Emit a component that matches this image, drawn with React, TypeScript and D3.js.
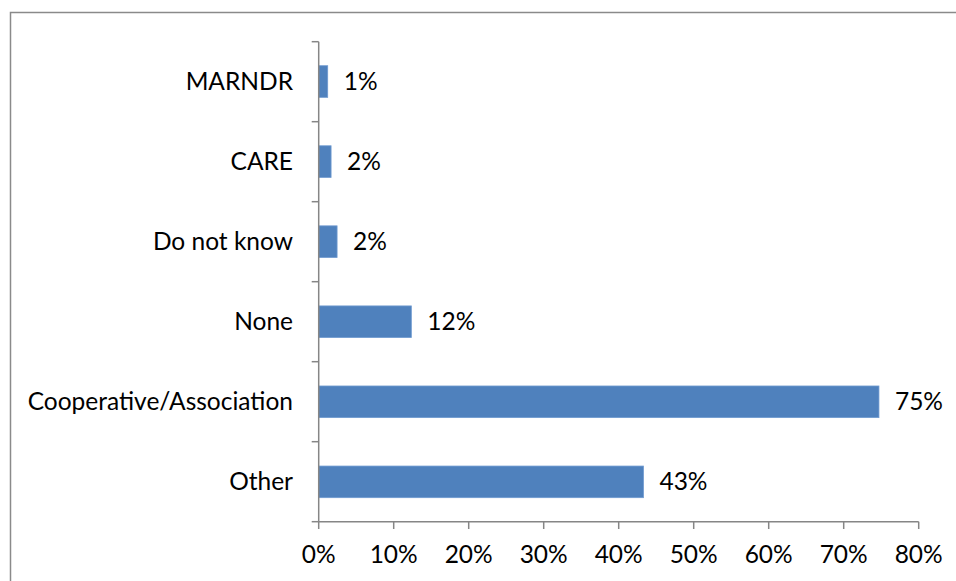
import React from "react";
import * as d3 from "d3";

const categories = ["MARNDR", "CARE", "Do not know", "None", "Cooperative/Association", "Other"];
const values = [1.2, 1.65, 2.45, 12.35, 74.7, 43.3];
const valueLabels = ["1%", "2%", "2%", "12%", "75%", "43%"];
const ticks = [0, 10, 20, 30, 40, 50, 60, 70, 80];

const W = 956;
const H = 581;
const FONT = "Lato, 'Open Sans', sans-serif";
const FS = 24.5;

export default function App() {
  const x = d3.scaleLinear().domain([0, 80]).range([318.7, 918.7]);
  const y = d3.scaleBand().domain(categories).range([41.7, 521.7]).paddingInner(0.605).paddingOuter(0.3);
  const yTicks = d3.range(categories.length + 1).map((i) => 41.7 + (i * 480) / categories.length);
  const axisColor = "#868686";
  const capHalf = FS * 0.35;
  return (
    <svg width={W} height={H} style={{ position: "absolute", left: 0, top: 0, background: "#fff" }}>
      <rect x={10.5} y={12.5} width={1000} height={1000} fill="none" stroke="#8a8a8a" strokeWidth={1.5} />
      {categories.map((c, i) => (
        <rect key={c} x={x(0)} y={y(c)!} width={x(values[i]) - x(0)} height={y.bandwidth()} fill="#4F81BD" stroke="#6f9ad0" strokeWidth={0.8} />
      ))}
      <line x1={x(0)} x2={x(0)} y1={41.7} y2={521.7} stroke={axisColor} strokeWidth={1.5} />
      {yTicks.map((t, i) => (
        <line key={i} x1={x(0) - 7} x2={x(0)} y1={t} y2={t} stroke={axisColor} strokeWidth={1.5} />
      ))}
      <line x1={x(0)} x2={x(80)} y1={521.7} y2={521.7} stroke={axisColor} strokeWidth={1.5} />
      {ticks.map((t) => (
        <g key={t}>
          <line x1={x(t)} x2={x(t)} y1={521.7} y2={529} stroke={axisColor} strokeWidth={1.5} />
          <text x={x(t)} y={563} textAnchor="middle" fontFamily={FONT} fontSize={FS} fill="#000">{t}%</text>
        </g>
      ))}
      {categories.map((c) => (
        <text key={c} x={293} y={y(c)! + y.bandwidth() / 2 + capHalf} textAnchor="end" fontFamily={FONT} fontSize={FS} fill="#000">{c}</text>
      ))}
      {categories.map((c, i) => (
        <text key={c + "v"} x={x(values[i]) + 16} y={y(c)! + y.bandwidth() / 2 + capHalf} textAnchor="start" fontFamily={FONT} fontSize={FS} fill="#000">{valueLabels[i]}</text>
      ))}
    </svg>
  );
}
